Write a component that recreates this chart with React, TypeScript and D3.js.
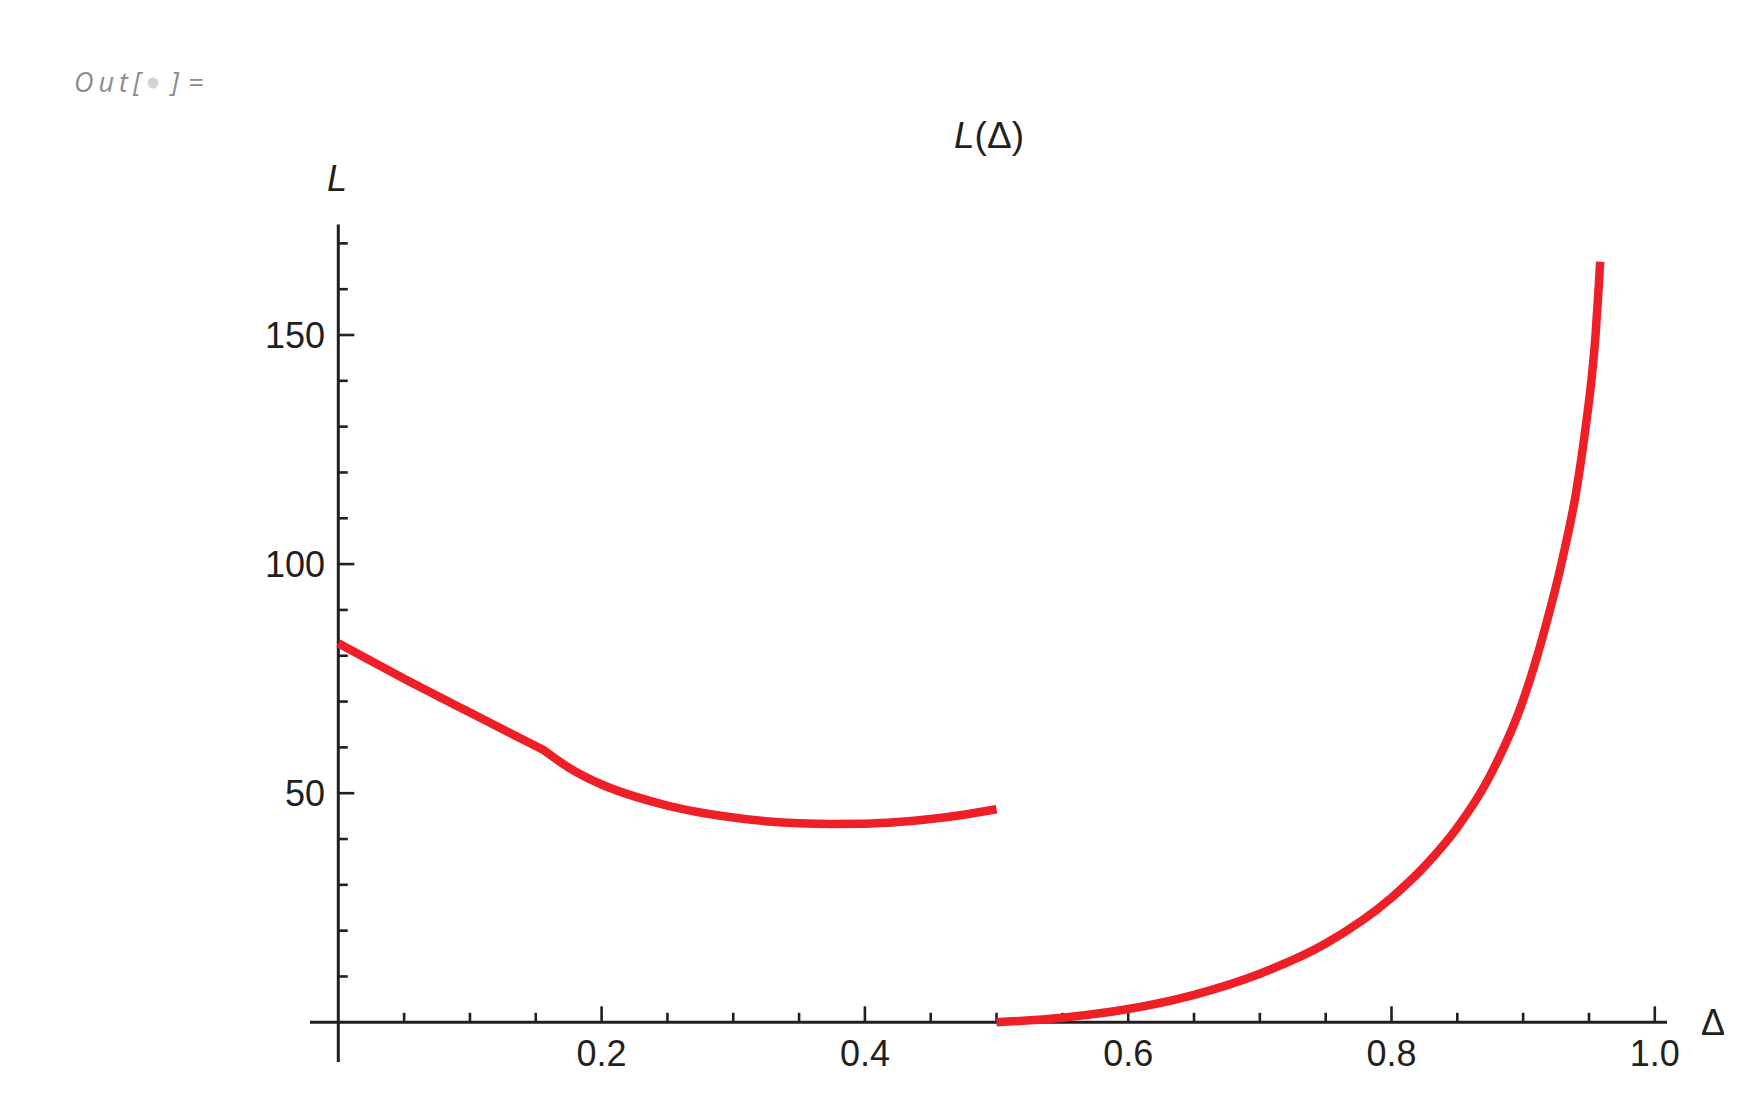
import React from "react";
import * as d3 from "d3";

// ---- data ----
const branchA_delta = [0, 0.05, 0.1, 0.156];
const branchA_L = [82.7, 75.0, 67.6, 59.4];

const branchB_delta = [0.156, 0.175, 0.2, 0.225, 0.25, 0.275, 0.3, 0.325, 0.35, 0.375, 0.4, 0.425, 0.45, 0.475, 0.5];
const branchB_L = [59.4, 55.6, 51.9, 49.3, 47.3, 45.8, 44.7, 43.9, 43.45, 43.3, 43.35, 43.7, 44.35, 45.3, 46.5];

const branchC_delta = [0.5, 0.55, 0.6, 0.65, 0.7, 0.75, 0.8, 0.825, 0.85, 0.875, 0.9, 0.915, 0.93, 0.94, 0.948, 0.952, 0.955, 0.9575, 0.9585];
const branchC_L = [0, 1.0, 2.9, 6.0, 10.6, 17.2, 27.2, 34.0, 42.5, 53.9, 70.3, 84.3, 101.3, 115.3, 131, 140.5, 150, 161, 166];

const xMajorTicks = [0.2, 0.4, 0.6, 0.8, 1.0];
const xMajorLabels = ["0.2", "0.4", "0.6", "0.8", "1.0"];
const xMinorTicks = [0.05, 0.1, 0.15, 0.25, 0.3, 0.35, 0.45, 0.5, 0.55, 0.65, 0.7, 0.75, 0.85, 0.9, 0.95];
const yMajorTicks = [50, 100, 150];
const yMajorLabels = ["50", "100", "150"];
const yMinorTicks = [10, 20, 30, 40, 60, 70, 80, 90, 110, 120, 130, 140, 160, 170];

const RED = "#ee1f26";
const INK = "#231f20";

export default function App() {
  const W = 1763;
  const H = 1100;
  const x = d3.scaleLinear().domain([0, 1]).range([338.3, 1654.8]);
  const y = d3.scaleLinear().domain([0, 150]).range([1022.3, 335]);

  const line = d3
    .line<[number, number]>()
    .x((d) => x(d[0]))
    .y((d) => y(d[1]))
    .curve(d3.curveMonotoneX);

  const pts = (xs: number[], ys: number[]) => xs.map((v, i) => [v, ys[i]] as [number, number]);
  const pathA = line(pts(branchA_delta, branchA_L)) || "";
  const pathB = line(pts(branchB_delta, branchB_L)) || "";
  const path1 = pathA + "L" + pathB.slice(1);
  const path2 = line(pts(branchC_delta, branchC_L)) || "";

  const axisY0 = y(0);
  const axisX0 = x(0);
  const font = "'Liberation Sans', Arial, sans-serif";

  return (
    <svg
      width={W}
      height={H}
      style={{ position: "absolute", left: 0, top: 0, background: "#fff" }}
    >
      <rect x={0} y={0} width={W} height={H} fill="#fff" />
      {/* Out[ ]= */}
      <g fill="#8c8c8c" fontFamily="'Open Sans', sans-serif" fontStyle="italic" fontSize={27}>
        <text x={74} y={92} letterSpacing={5}>Out[</text>
        <circle cx={153} cy={83} r={5.5} fill="#d4d4d4" />
        <text x={171} y={92}>]</text>
        <text x={188} y={92}>=</text>
      </g>

      {/* title */}
      <text x={989} y={148} textAnchor="middle" fontFamily={font} fontSize={37} fill={INK}>
        <tspan fontStyle="italic">L</tspan>
        <tspan>(Δ)</tspan>
      </text>

      {/* axes */}
      <line x1={310} x2={1667} y1={axisY0} y2={axisY0} stroke={INK} strokeWidth={3} />
      <line x1={axisX0} x2={axisX0} y1={1062} y2={224.5} stroke={INK} strokeWidth={3} />

      {xMajorTicks.map((t) => (
        <line key={"xM" + t} x1={x(t)} x2={x(t)} y1={axisY0} y2={axisY0 - 16} stroke={INK} strokeWidth={2.6} />
      ))}
      {xMinorTicks.map((t) => (
        <line key={"xm" + t} x1={x(t)} x2={x(t)} y1={axisY0} y2={axisY0 - 9.5} stroke={INK} strokeWidth={2.6} />
      ))}
      {yMajorTicks.map((t) => (
        <line key={"yM" + t} x1={axisX0} x2={axisX0 + 16} y1={y(t)} y2={y(t)} stroke={INK} strokeWidth={2.6} />
      ))}
      {yMinorTicks.map((t) => (
        <line key={"ym" + t} x1={axisX0} x2={axisX0 + 9.5} y1={y(t)} y2={y(t)} stroke={INK} strokeWidth={2.6} />
      ))}

      {xMajorTicks.map((t, i) => (
        <text key={"xl" + t} x={x(t)} y={1066} textAnchor="middle" fontFamily={font} fontSize={36} fill={INK}>
          {xMajorLabels[i]}
        </text>
      ))}
      {yMajorTicks.map((t, i) => (
        <text key={"yl" + t} x={325} y={y(t) + 13} textAnchor="end" fontFamily={font} fontSize={36} fill={INK}>
          {yMajorLabels[i]}
        </text>
      ))}

      {/* axis labels */}
      <text x={337} y={191} textAnchor="middle" fontFamily={font} fontStyle="italic" fontSize={36} fill={INK}>L</text>
      <text x={1701} y={1035} fontFamily={font} fontSize={36} fill={INK}>Δ</text>

      {/* curves */}
      <path d={path1} fill="none" stroke={RED} strokeWidth={8.5} strokeLinejoin="round" />
      <path d={path2} fill="none" stroke={RED} strokeWidth={8.5} strokeLinejoin="round" />
    </svg>
  );
}
